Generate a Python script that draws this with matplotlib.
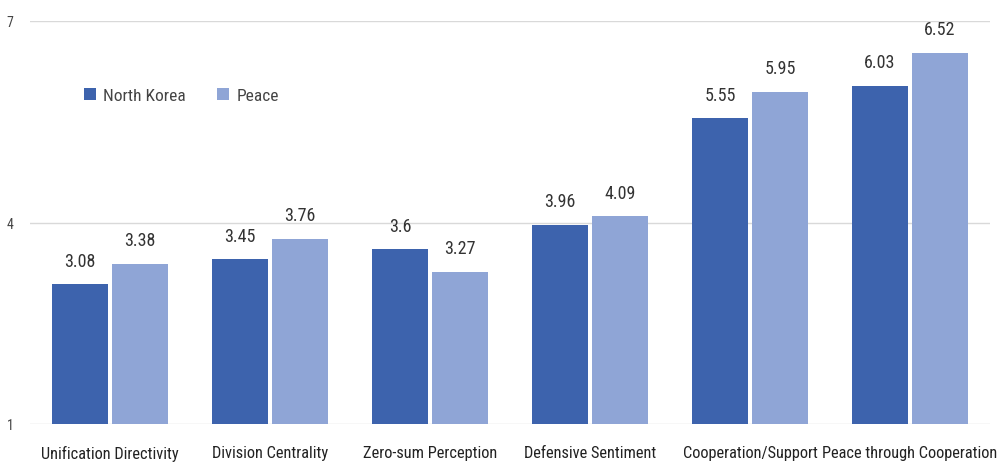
import matplotlib
matplotlib.use("Agg")
import matplotlib.pyplot as plt
import numpy as np

categories = ["Unification Directivity", "Division Centrality", "Zero-sum Perception",
              "Defensive Sentiment", "Cooperation/Support", "Peace through Cooperation"]
north_korea = [3.08, 3.45, 3.6, 3.96, 5.55, 6.03]
peace = [3.38, 3.76, 3.27, 4.09, 5.95, 6.52]
nk_labels = ["3.08", "3.45", "3.6", "3.96", "5.55", "6.03"]
pe_labels = ["3.38", "3.76", "3.27", "4.09", "5.95", "6.52"]
yticks = [1, 4, 7]

plt.rcParams['font.family'] = ['Roboto Condensed', 'DejaVu Sans']

fig = plt.figure(figsize=(9.98, 4.64), dpi=100)
ax = fig.add_axes([30/998, 1-425/464, 960/998, (425-22)/464])

c1 = "#3D63AD"
c2 = "#8FA5D6"
x = np.arange(len(categories))
w = 0.35
gap = 0.0125
ax.bar(x - w/2 - gap, np.array(north_korea) - 1, w, bottom=1, color=c1, label="North Korea", zorder=3)
ax.bar(x + w/2 + gap, np.array(peace) - 1, w, bottom=1, color=c2, label="Peace", zorder=3)

for i in range(len(categories)):
    ax.text(x[i] - w/2 - gap, north_korea[i] + 0.22, nk_labels[i], ha="center", va="bottom",
            fontsize=13, color="#333333")
    ax.text(x[i] + w/2 + gap, peace[i] + 0.22, pe_labels[i], ha="center", va="bottom",
            fontsize=13, color="#333333")

ax.set_xlim(-0.5, len(categories) - 0.5)
ax.set_ylim(1, 7)
ax.set_yticks(yticks)
ax.set_yticklabels([str(t) for t in yticks], fontsize=10, color="#444444")
ax.yaxis.grid(True, color="#D9D9D9", linewidth=1, zorder=0)
ax.tick_params(axis="y", length=0, pad=12)
ax.tick_params(axis="x", length=0, pad=15)
ax.set_xticks(x)
ax.set_xticklabels(categories, fontsize=11.8, color="#222222")
for s in ax.spines.values():
    s.set_visible(False)

ax.legend(loc="upper left", bbox_to_anchor=(0.04, 0.872), ncol=2, frameon=False,
          fontsize=12.5, handlelength=0.7, handleheight=0.7, columnspacing=1.8,
          handletextpad=0.4, labelcolor="#444444")

fig.savefig("out.png", dpi=100)
